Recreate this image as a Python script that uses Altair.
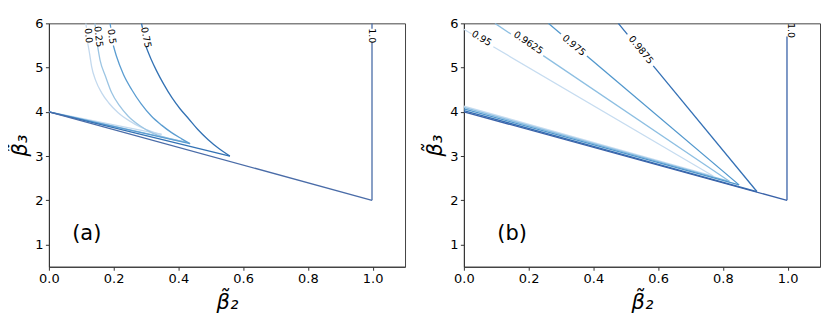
import altair as alt
import pandas as pd

FONT = "DejaVu Sans"

# ---------------- Panel (a): contour levels 0.0 .. 1.0 ----------------
a_levels = ["0.0", "0.25", "0.5", "0.75", "1.0"]
a_colors = ["#c3d9ee", "#9cc5e3", "#5b9dd1", "#3372b4", "#4a6ca8"]

# each level: list of segments (beta2 list, beta3 list); gaps are where labels sit
a_lines = {
    "0.0": [
        ([0.114, 0.116], [6.0, 5.9]),
        ([0.120, 0.126, 0.132, 0.145, 0.163, 0.185, 0.214, 0.250, 0.287, 0.320, 0.348],
         [5.55, 5.30, 5.02, 4.70, 4.43, 4.20, 3.98, 3.79, 3.64, 3.55, 3.49]),
        ([0.0, 0.348], [4.0, 3.49]),
    ],
    "0.25": [
        ([0.142, 0.144], [6.0, 5.9]),
        ([0.150, 0.158, 0.175, 0.194, 0.217, 0.245, 0.280, 0.317, 0.370, 0.425],
         [5.50, 5.17, 4.80, 4.43, 4.15, 3.90, 3.69, 3.53, 3.40, 3.31]),
        ([0.0, 0.425], [4.0, 3.31]),
    ],
    "0.5": [
        ([0.189, 0.191], [6.0, 5.9]),
        ([0.199, 0.209, 0.230, 0.256, 0.285, 0.317, 0.348, 0.379, 0.410, 0.436],
         [5.50, 5.25, 4.85, 4.50, 4.18, 3.90, 3.70, 3.53, 3.39, 3.28]),
        ([0.0, 0.436], [4.0, 3.28]),
    ],
    "0.75": [
        ([0.286, 0.289], [6.0, 5.9]),
        ([0.300, 0.315, 0.333, 0.355, 0.380, 0.405, 0.431, 0.460, 0.492, 0.525, 0.559],
         [5.47, 5.20, 4.92, 4.62, 4.32, 4.07, 3.85, 3.60, 3.37, 3.17, 3.00]),
        ([0.0, 0.559], [4.0, 3.00]),
    ],
    "1.0": [
        ([0.998, 0.998], [6.0, 5.88]),
        ([0.998, 0.998], [5.57, 2.0]),
        ([0.0, 0.998], [4.0, 2.0]),
    ],
}
a_label_x = [0.122, 0.153, 0.194, 0.300, 0.998]
a_label_y = [5.72, 5.70, 5.70, 5.68, 5.72]
a_label_angle = [84, 83, 82, 79, 90]

# ---------------- Panel (b): contour levels 0.95 .. 1.0 ----------------
b_levels = ["0.95", "0.9625", "0.975", "0.9875", "1.0"]
b_colors = ["#c6dcf0", "#8dbfe2", "#4f96cc", "#3370b5", "#3a62a8"]

b_lines = {
    "0.95": [
        ([0.0, 0.024], [5.865, 5.76]),
        ([0.091, 0.770], [5.47, 2.55]),
        ([0.0, 0.770], [4.13, 2.55]),
    ],
    "0.9625": [
        ([0.096, 0.145], [6.0, 5.76]),
        ([0.245, 0.820], [5.27, 2.43]),
        ([0.0, 0.820], [4.10, 2.43]),
    ],
    "0.975": [
        ([0.261, 0.300], [6.0, 5.76]),
        ([0.380, 0.850], [5.26, 2.35]),
        ([0.0, 0.850], [4.065, 2.35]),
    ],
    "0.9875": [
        ([0.477, 0.505], [6.0, 5.75]),
        ([0.585, 0.905], [5.04, 2.20]),
        ([0.0, 0.905], [4.03, 2.20]),
    ],
    "1.0": [
        ([0.998, 0.998], [5.70, 2.0]),
        ([0.0, 0.998], [4.0, 2.0]),
    ],
}
b_label_x = [0.055, 0.199, 0.340, 0.547, 1.010]
b_label_y = [5.66, 5.56, 5.50, 5.40, 5.84]
b_label_angle = [31, 34, 40, 51, 90]

panel_tags = ["(a)", "(b)"]
tag_x = [0.117, 0.149]
tag_y = [1.24, 1.24]

x_ticks = [0.0, 0.2, 0.4, 0.6, 0.8, 1.0]
y_ticks = [1, 2, 3, 4, 5, 6]


def lines_df(levels, colors, lines):
    rows = []
    for lev, col in zip(levels, colors):
        for si, (xs, ys) in enumerate(lines[lev]):
            for oi, (xv, yv) in enumerate(zip(xs, ys)):
                rows.append({"level": lev, "seg": f"{lev}-{si}", "order": oi,
                             "b2": xv, "b3": yv, "color": col})
    return pd.DataFrame(rows)


def panel(levels, colors, lines, lx, ly, la, tag, tx, ty):
    xs = alt.Scale(domain=[0, 1.1], nice=False, zero=False)
    ys = alt.Scale(domain=[0.5, 6], nice=False, zero=False)
    xax = alt.Axis(values=x_ticks, format=".1f", title="β̃₂", titlePadding=6)
    yax = alt.Axis(values=y_ticks, format="d", title="β̃₃", titlePadding=4)

    ldf = lines_df(levels, colors, lines)
    line = alt.Chart(ldf).mark_line(strokeWidth=1.3, clip=True, interpolate="monotone").encode(
        x=alt.X("b2:Q", scale=xs, axis=xax),
        y=alt.Y("b3:Q", scale=ys, axis=yax),
        detail="seg:N",
        order="order:Q",
        color=alt.Color("color:N", scale=None),
    )
    labdf = pd.DataFrame({"t": levels, "b2": lx, "b3": ly, "ang": la})
    labels = alt.Chart(labdf).mark_text(
        font=FONT, fontSize=9.5, color="black", align="center", baseline="middle"
    ).encode(
        x=alt.X("b2:Q", scale=xs),
        y=alt.Y("b3:Q", scale=ys),
        text="t:N",
        angle=alt.Angle("ang:Q", scale=None),
    )
    tagdf = pd.DataFrame({"t": [tag], "b2": [tx], "b3": [ty]})
    tagc = alt.Chart(tagdf).mark_text(
        font=FONT, fontSize=21, color="black", align="center", baseline="middle"
    ).encode(
        x=alt.X("b2:Q", scale=xs),
        y=alt.Y("b3:Q", scale=ys),
        text="t:N",
    )
    return alt.layer(line, labels, tagc).properties(width=357, height=244)


left = panel(a_levels, a_colors, a_lines, a_label_x, a_label_y, a_label_angle,
             panel_tags[0], tag_x[0], tag_y[0])
right = panel(b_levels, b_colors, b_lines, b_label_x, b_label_y, b_label_angle,
              panel_tags[1], tag_x[1], tag_y[1])

chart = alt.hconcat(left, right, spacing=18).properties(
    padding={"left": 1, "top": 8, "right": 2, "bottom": 2}
).configure_view(
    stroke="#444", strokeWidth=1
).configure_axis(
    grid=False,
    labelFont=FONT, labelFontSize=13, labelColor="black",
    titleFont=FONT, titleFontSize=21, titleFontWeight="normal", titleColor="black",
    titleFontStyle="italic",
    domainColor="#333", tickColor="#333", tickSize=3.5, labelPadding=2.5,
).configure_axisX(labelFlush=False).configure_axisY(labelFlush=False)

chart.save("out.html", embed_options={"renderer": "svg", "actions": False})
